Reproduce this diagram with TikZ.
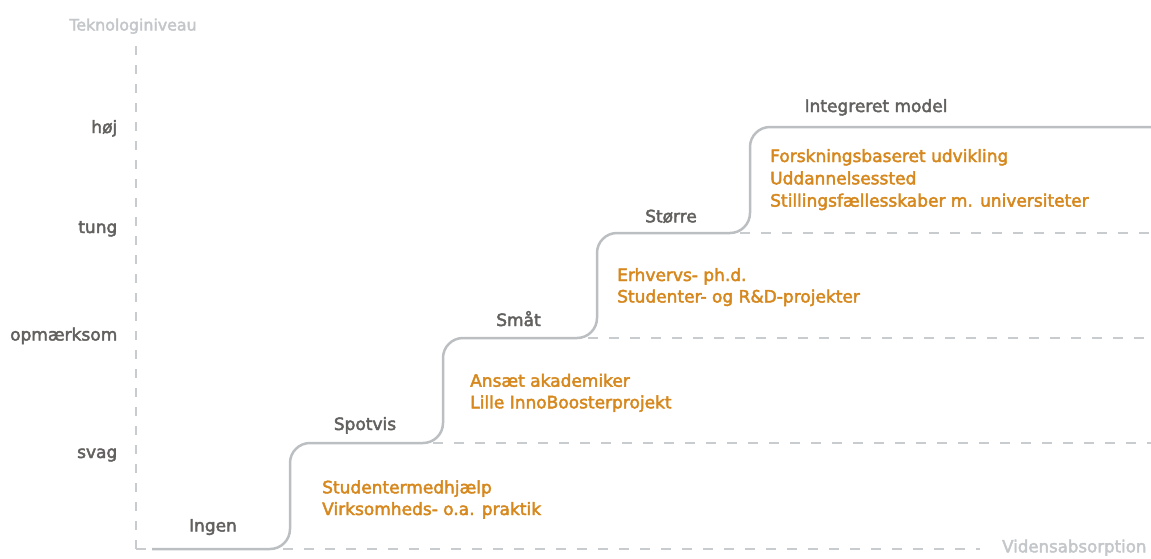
\documentclass[tikz,border=0pt]{standalone}
\usepackage{fontspec}
\setmainfont{DejaVu Sans}[FakeBold=2.6]
\definecolor{labgray}{RGB}{98,97,95}
\definecolor{orng}{RGB}{214,136,30}
\definecolor{axtitle}{RGB}{196,199,202}
\definecolor{stepgray}{RGB}{188,191,194}
\definecolor{dashgray}{RGB}{201,204,207}
\begin{document}
\begin{tikzpicture}[x=1pt,y=-1pt,
  lvl/.style={font=\fontsize{17}{22}\selectfont, text=labgray, inner sep=0pt},
  item/.style={font=\fontsize{17}{22}\selectfont, text=orng, inner sep=0pt, anchor=base west},
  axt/.style={font=\fontsize{16.4}{20}\selectfont, text=axtitle, inner sep=0pt},
  stair/.style={draw=stepgray, line width=2.5pt, rounded corners=20pt},
  guide/.style={draw=dashgray, line width=2.8pt, dash pattern=on 10pt off 11pt},
  vguide/.style={draw=dashgray, line width=2.2pt, dash pattern=on 9pt off 10pt}]
\useasboundingbox (0,0) rectangle (1151,558);

% coordinates
\coordinate (ytop) at (136,46);
\coordinate (origin) at (136,549);
\coordinate (xend) at (980,549);
\coordinate (s0) at (152,549);
\coordinate (c1) at (290,549);
\coordinate (c2) at (290,443);
\coordinate (c3) at (443,443);
\coordinate (c4) at (443,338);
\coordinate (c5) at (597,338);
\coordinate (c6) at (597,233);
\coordinate (c7) at (750,233);
\coordinate (c8) at (750,127);
\coordinate (s9) at (1151,127);
\coordinate (g1a) at (433,443);
\coordinate (g1b) at (1151,443);
\coordinate (g2a) at (588,338);
\coordinate (g2b) at (1151,338);
\coordinate (g3a) at (740,233);
\coordinate (g3b) at (1151,233);

% guides
\draw[vguide] (ytop) -- (origin);
\draw[guide] (origin) -- (xend);
\draw[guide] (g1a) -- (g1b);
\draw[guide] (g2a) -- (g2b);
\draw[guide] (g3a) -- (g3b);

% staircase
\draw[stair] (s0) -- (c1) -- (c2) -- (c3) -- (c4) -- (c5) -- (c6) -- (c7) -- (c8) -- (s9);

% axis titles
\node[axt, font=\fontsize{15.8}{20}\selectfont, anchor=base] (ytitle) at (133,30.5) {Teknologiniveau};
\node[axt, font=\fontsize{16.6}{20}\selectfont, anchor=base west] (xtitle) at (1002,552.3) {Vidensabsorption};

% level labels
\node[lvl, anchor=base east] (hoej) at (117.5,133) {høj};
\node[lvl, anchor=base east] (tung) at (117.5,233) {tung};
\node[lvl, anchor=base east] (opm) at (117.5,340.5) {opmærksom};
\node[lvl, anchor=base east] (svag) at (117.5,458) {svag};

% step labels
\node[lvl, anchor=base] (ingen) at (213,531.5) {Ingen};
\node[lvl, anchor=base] (spot) at (365,430) {Spotvis};
\node[lvl, anchor=base] (smaat) at (518.5,326) {Småt};
\node[lvl, anchor=base] (stoerre) at (671,222.3) {Større};
\node[lvl, anchor=base] (integ) at (876,112) {Integreret model};

% items
\node[item] (i1a) at (322,493.3) {Studentermedhjælp};
\node[item] (i1b) at (322,515) {Virksomheds- o.a. praktik};
\node[item] (i2a) at (470,386.7) {Ansæt akademiker};
\node[item] (i2b) at (470,408.3) {Lille InnoBoosterprojekt};
\node[item] (i3a) at (617,281) {Erhvervs- ph.d.};
\node[item] (i3b) at (617,302.5) {Studenter- og R\&D-projekter};
\node[item] (i4a) at (770,162) {Forskningsbaseret udvikling};
\node[item] (i4b) at (770,184.3) {Uddannelsessted};
\node[item] (i4c) at (770,206.6) {Stillingsfællesskaber m. universiteter};
\end{tikzpicture}
\end{document}
